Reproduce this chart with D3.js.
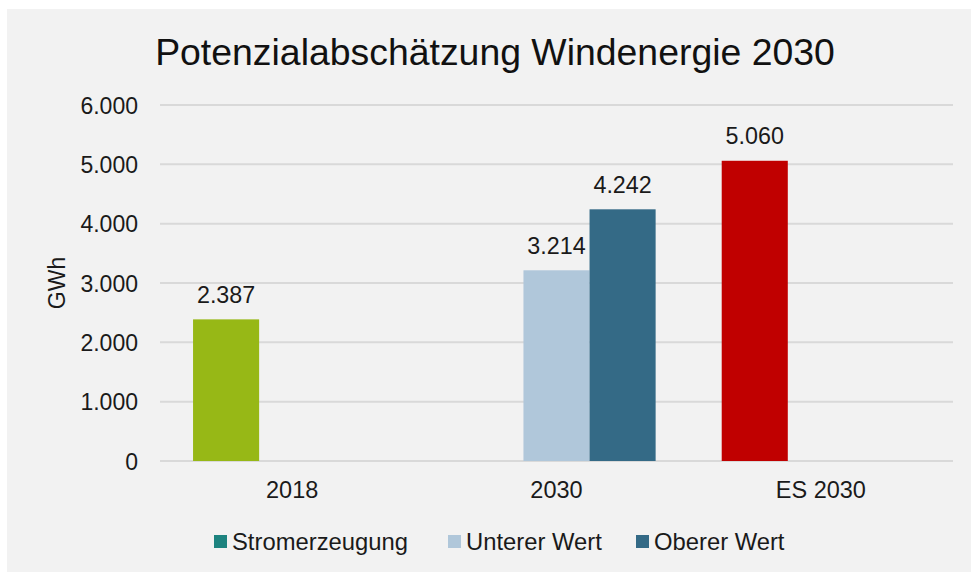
<!DOCTYPE html>
<html><head><meta charset="utf-8">
<script src="https://cdn.jsdelivr.net/npm/d3@7"></script>
<style>html,body{margin:0;padding:0;background:#fff;} svg{display:block;font-family:"Liberation Sans",Arial,sans-serif;}</style>
</head><body>
<svg id="c" width="971" height="572"></svg>
<script>
const title = "Potenzialabschätzung Windenergie 2030";
const yAxisLabel = "GWh";
const categories = ["2018", "2030", "ES 2030"];
const seriesNames = ["Stromerzeugung", "Unterer Wert", "Oberer Wert"];
const stromerzeugung = [2387, null, 5060];
const untererWert = [null, 3214, null];
const obererWert = [null, 4242, null];
const yTicks = [0, 1000, 2000, 3000, 4000, 5000, 6000];
const seriesColors = ["#1d837f", "#b0c7da", "#346a86"];
const stromPointColors = ["#97b816", null, "#c00000"];

const seriesValues = [stromerzeugung, untererWert, obererWert];
const svg = d3.select("#c");
const W = 971, H = 572;
const loc = d3.formatLocale({decimal: ",", thousands: ".", grouping: [3], currency: ["", "€"]});
const fmt = loc.format(",d");

svg.append("rect").attr("x", 7).attr("y", 9).attr("width", W - 7).attr("height", H - 9).attr("fill", "#f2f2f2");

const m = {left: 160, right: 953, top: 105, bottom: 461};
const x = d3.scaleBand().domain(categories).range([m.left, m.right]).paddingInner(0).paddingOuter(0);
const xs = d3.scaleBand().domain(seriesNames).range([0, x.bandwidth()]).paddingInner(0).paddingOuter(0.5);
const y = d3.scaleLinear().domain([0, 6000]).range([m.bottom, m.top]);

// gridlines
svg.append("g").selectAll("line").data(yTicks).join("line")
  .attr("x1", m.left).attr("x2", m.right)
  .attr("y1", d => y(d)).attr("y2", d => y(d))
  .attr("stroke", "#d9d9d9").attr("stroke-width", 2);

// y axis labels
const yAxis = d3.axisLeft(y).tickValues(yTicks).tickFormat(d => fmt(d)).tickSize(0).tickPadding(22);
const ya = svg.append("g").attr("transform", `translate(${m.left},0)`).call(yAxis);
ya.select(".domain").remove();
ya.selectAll("text").attr("font-size", "23px").attr("fill", "#1a1a1a").attr("font-family", "Liberation Sans, Arial, sans-serif").attr("dy", "0.35em");

// x axis labels
const xAxis = d3.axisBottom(x).tickSize(0).tickPadding(0);
const xa = svg.append("g").attr("transform", `translate(0,${m.bottom})`).call(xAxis);
xa.select(".domain").remove();
xa.selectAll("text").attr("font-size", "23.5px").attr("fill", "#1a1a1a").attr("font-family", "Liberation Sans, Arial, sans-serif").attr("dy", null).attr("y", 37);

// bars
const barData = [];
seriesNames.forEach((s, si) => {
  categories.forEach((c, ci) => {
    const v = seriesValues[si][ci];
    if (v == null) return;
    const col = (si === 0 && stromPointColors[ci]) ? stromPointColors[ci] : seriesColors[si];
    barData.push({s, c, v, col});
  });
});
const bars = svg.append("g");
bars.selectAll("rect").data(barData).join("rect")
  .attr("x", d => x(d.c) + xs(d.s)).attr("width", xs.bandwidth())
  .attr("y", d => y(d.v)).attr("height", d => y(0) - y(d.v))
  .attr("fill", d => d.col);
bars.selectAll("text").data(barData).join("text")
  .attr("x", d => x(d.c) + xs(d.s) + xs.bandwidth() / 2)
  .attr("y", d => y(d.v) - 16.5)
  .attr("text-anchor", "middle").attr("font-size", "23.3px").attr("fill", "#1a1a1a")
  .text(d => fmt(d.v));

// title
svg.append("text").attr("x", 495).attr("y", 65).attr("text-anchor", "middle")
  .attr("font-size", "37.4px").attr("fill", "#111").text(title);

// y axis title
svg.append("text").attr("transform", `translate(65,283) rotate(-90)`).attr("text-anchor", "middle")
  .attr("font-size", "23px").attr("fill", "#1a1a1a").text(yAxisLabel);

// legend
const legX = [214, 448, 636];
const lg = svg.append("g");
seriesNames.forEach((s, i) => {
  lg.append("rect").attr("x", legX[i]).attr("y", 535).attr("width", 13).attr("height", 13).attr("fill", seriesColors[i]);
  lg.append("text").attr("x", legX[i] + 18).attr("y", 549.5).attr("font-size", "23.8px").attr("fill", "#1a1a1a").text(s);
});
</script>
</body></html>
